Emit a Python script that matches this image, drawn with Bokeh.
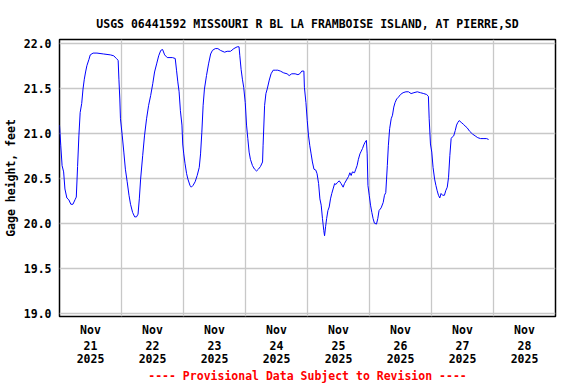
from bokeh.plotting import figure
from bokeh.models import FixedTicker, Range1d, NumeralTickFormatter, LinearAxis
from bokeh.embed import file_html
from bokeh.resources import INLINE

# ---- data (hours since 2025-11-21 00:00, gage height in feet) ----
hours = [0.0, 0.5, 1.0, 1.6, 2.1, 2.85, 3.6, 4.4, 5.2, 6.0, 6.5, 7.0, 7.5, 8.0, 8.6, 9.1, 9.6, 10.1,
         10.6, 11.4, 11.9, 13.0, 14.5, 17.1, 19.7, 21.0, 22.0, 22.7, 23.0, 23.35, 23.6, 24.3, 24.9,
         25.5, 26.2, 26.9, 27.5, 28.3, 29.1, 29.8, 30.4, 30.9, 31.4, 32.2, 32.9, 33.7, 34.5, 35.3,
         36.1, 36.8, 37.6, 38.4, 39.2, 39.9, 40.7, 41.7, 43.7, 44.8, 45.3, 45.8, 46.3, 46.8, 47.4,
         47.7, 48.1, 48.6, 49.2, 49.7, 50.5, 51.0, 51.7, 52.5, 53.3, 54.1, 54.6, 55.1, 55.6, 56.1,
         56.9, 57.7, 58.5, 59.2, 60.3, 61.3, 62.3, 63.9, 64.9, 66.2, 67.5, 68.8, 69.5, 69.8, 70.3,
         70.8, 71.3, 71.9, 72.4, 72.9, 73.4, 73.9, 74.7, 75.5, 76.3, 77.0, 77.8, 78.6, 78.8, 79.4,
         79.9, 80.4, 81.2, 81.9, 82.7, 83.5, 84.5, 85.5, 86.8, 88.1, 88.9, 89.9, 91.2, 92.3, 93.0,
         93.8, 94.6, 94.8, 95.4, 95.9, 96.4, 96.9, 97.4, 97.9, 98.5, 99.2, 99.7, 100.3, 100.8,
         101.3, 101.8, 102.3, 102.6, 103.0, 103.4, 103.9, 104.4, 104.9, 105.4, 105.9, 106.5,
         107.0, 107.5, 108.3, 109.0, 109.8, 110.3, 111.1, 111.9, 112.4, 112.9, 113.4, 114.2,
         114.7, 115.2, 115.7, 116.3, 116.8, 117.3, 117.8, 118.3, 118.8, 119.1, 119.4, 119.9,
         120.4, 120.9, 121.4, 121.9, 122.7, 123.2, 123.7, 124.5, 125.3, 125.8, 126.3, 126.6,
         126.9, 127.3, 127.8, 128.4, 128.9, 129.4, 129.9, 130.5, 131.2, 132.0, 133.0, 134.1,
         135.1, 136.1, 137.2, 138.5, 139.7, 141.0, 142.1, 142.8, 143.1, 143.6, 144.1, 144.6,
         145.2, 145.7, 146.2, 146.7, 147.2, 147.7, 148.3, 149.0, 149.5, 150.1, 150.6, 151.1,
         151.6, 152.1, 152.6, 153.2, 153.7, 154.2, 154.7, 155.5, 156.3, 157.0, 157.8, 158.8,
         159.9, 160.9, 161.9, 163.0, 164.3, 165.3, 166.1]
gage_ft = [21.09, 20.86, 20.64, 20.57, 20.38, 20.28, 20.26, 20.21, 20.21, 20.26, 20.29, 20.63, 20.97,
           21.23, 21.33, 21.49, 21.60, 21.68, 21.75, 21.82, 21.87, 21.89, 21.89, 21.88, 21.87, 21.86,
           21.83, 21.81, 21.60, 21.38, 21.16, 20.97, 20.79, 20.60, 20.46, 20.31, 20.21, 20.12, 20.07,
           20.07, 20.10, 20.27, 20.49, 20.75, 20.97, 21.16, 21.31, 21.42, 21.55, 21.68, 21.77, 21.86,
           21.92, 21.93, 21.87, 21.84, 21.84, 21.83, 21.70, 21.57, 21.46, 21.25, 21.09, 20.88, 20.77,
           20.66, 20.55, 20.49, 20.42, 20.40, 20.42, 20.46, 20.53, 20.62, 20.77, 21.01, 21.31, 21.49,
           21.64, 21.77, 21.88, 21.92, 21.94, 21.94, 21.92, 21.90, 21.91, 21.91, 21.94, 21.96, 21.96,
           21.86, 21.71, 21.60, 21.51, 21.34, 21.09, 20.94, 20.79, 20.71, 20.64, 20.60, 20.58, 20.60,
           20.63, 20.68, 20.86, 21.31, 21.44, 21.49, 21.59, 21.66, 21.70, 21.70, 21.70, 21.69, 21.67,
           21.66, 21.64, 21.66, 21.66, 21.65, 21.66, 21.69, 21.69, 21.51, 21.34, 21.14, 20.97, 20.86,
           20.77, 20.68, 20.60, 20.59, 20.55, 20.44, 20.27, 20.20, 20.05, 19.92, 19.86, 19.96, 20.05,
           20.14, 20.18, 20.27, 20.33, 20.38, 20.44, 20.43, 20.45, 20.47, 20.44, 20.40, 20.44, 20.48,
           20.52, 20.56, 20.53, 20.57, 20.56, 20.60, 20.64, 20.71, 20.77, 20.80, 20.83, 20.87, 20.90,
           20.92, 20.77, 20.42, 20.31, 20.20, 20.12, 20.05, 20.00, 19.99, 20.05, 20.14, 20.17, 20.23,
           20.31, 20.34, 20.49, 20.64, 20.86, 21.05, 21.16, 21.20, 21.29, 21.34, 21.38, 21.40, 21.43,
           21.45, 21.46, 21.46, 21.44, 21.45, 21.46, 21.45, 21.44, 21.43, 21.41, 21.16, 20.88, 20.79,
           20.62, 20.49, 20.42, 20.36, 20.31, 20.28, 20.33, 20.31, 20.31, 20.36, 20.40, 20.51, 20.75,
           20.94, 20.96, 20.97, 21.03, 21.09, 21.12, 21.14, 21.12, 21.10, 21.08, 21.06, 21.02, 20.99,
           20.97, 20.95, 20.94, 20.94, 20.94, 20.93]

day_months = ["Nov"] * 8
day_numbers = ["21", "22", "23", "24", "25", "26", "27", "28"]
day_years = ["2025"] * 8
y_ticks = [19.0, 19.5, 20.0, 20.5, 21.0, 21.5, 22.0]

title_text = "USGS 06441592 MISSOURI R BL LA FRAMBOISE ISLAND, AT PIERRE,SD"
y_label = "Gage height, feet"
note_text = "---- Provisional Data Subject to Revision ----"

FONT = "DejaVu Sans Mono"
FS = "11.5px"

label_ticks = [12 + 24 * i for i in range(len(day_numbers))]
grid_ticks = [24 * i for i in range(len(day_numbers) + 1)]

p = figure(frame_width=496, frame_height=277,
           min_border_left=58, min_border_right=22, min_border_top=39, min_border_bottom=64,
           x_range=Range1d(0, 192), y_range=Range1d(18.963, 22.041),
           output_backend="svg", toolbar_location=None, title=title_text)

p.background_fill_color = "white"
p.border_fill_color = "white"
p.outline_line_color = "black"
p.outline_line_width = 1.5

p.title.text_font = FONT
p.title.text_font_size = FS
p.title.text_font_style = "bold"
p.title.align = "center"
p.title.text_color = "black"
p.title.standoff = 18


def style_axis(ax):
    ax.axis_line_color = None
    ax.major_tick_line_color = None
    ax.minor_tick_line_color = None
    ax.major_tick_out = 0
    ax.major_tick_in = 0
    ax.minor_tick_out = 0
    ax.major_label_text_font = FONT
    ax.major_label_text_font_size = FS
    ax.major_label_text_font_style = "bold"
    ax.major_label_text_color = "black"
    ax.axis_label_text_font = FONT
    ax.axis_label_text_font_size = FS
    ax.axis_label_text_font_style = "bold"


# x axes: month / day / year rows
p.xaxis.ticker = FixedTicker(ticks=label_ticks)
p.xaxis.major_label_overrides = {t: m for t, m in zip(label_ticks, day_months)}
p.xaxis.major_label_standoff = 6
style_axis(p.xaxis[0])

ax_day = LinearAxis(ticker=FixedTicker(ticks=label_ticks),
                    major_label_overrides={t: d for t, d in zip(label_ticks, day_numbers)},
                    major_label_standoff=1)
style_axis(ax_day)
p.add_layout(ax_day, "below")

ax_year = LinearAxis(ticker=FixedTicker(ticks=label_ticks),
                     major_label_overrides={t: y for t, y in zip(label_ticks, day_years)},
                     major_label_standoff=1, axis_label=note_text, axis_label_standoff=3)
style_axis(ax_year)
ax_year.axis_label_text_color = "red"
p.add_layout(ax_year, "below")

# y axis
p.yaxis.ticker = FixedTicker(ticks=y_ticks)
p.yaxis.formatter = NumeralTickFormatter(format="0.0")
p.yaxis.axis_label = y_label
p.yaxis.axis_label_standoff = 3
p.yaxis.major_label_standoff = 8
style_axis(p.yaxis[0])
p.yaxis.axis_label_text_color = "black"

p.xgrid.ticker = FixedTicker(ticks=grid_ticks)
p.xgrid.grid_line_color = "#c8c8c8"
p.xgrid.grid_line_width = 1.3
p.ygrid.grid_line_color = "#c8c8c8"
p.ygrid.grid_line_width = 1.3

p.line(hours, gage_ft, line_color="#0000ff", line_width=1.0)

open("out.html", "w").write(file_html(p, INLINE))
